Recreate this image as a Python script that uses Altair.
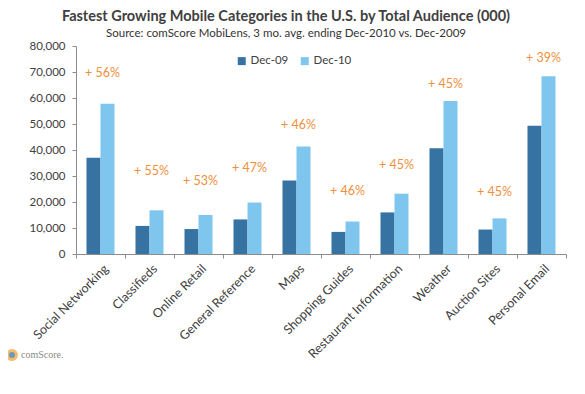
import altair as alt
import pandas as pd

categories = ["Social Networking", "Classifieds", "Online Retail", "General Reference", "Maps",
              "Shopping Guides", "Restaurant Information", "Weather", "Auction Sites", "Personal Email"]
dec09 = [37000, 10800, 9600, 13300, 28300, 8500, 16000, 40700, 9400, 49300]
dec10 = [57800, 16800, 15000, 19800, 41300, 12500, 23200, 58800, 13700, 68400]
growth = ["+ 56%", "+ 55%", "+ 53%", "+ 47%", "+ 46%", "+ 46%", "+ 45%", "+ 45%", "+ 45%", "+ 39%"]
label_level = [69500, 31800, 28000, 33100, 49700, 24400, 34400, 65200, 24000, 75300]
series = ["Dec-09", "Dec-10"]
y_ticks = [0, 10000, 20000, 30000, 40000, 50000, 60000, 70000, 80000]

rows = []
for c, a, b in zip(categories, dec09, dec10):
    rows.append({"category": c, "series": series[0], "value": a})
    rows.append({"category": c, "series": series[1], "value": b})
bars_df = pd.DataFrame(rows)
labels_df = pd.DataFrame({"category": categories, "label": growth, "level": label_level})

FONT = "Lato"
GRAY = "#404040"

x_scale = alt.Scale(domain=categories, paddingInner=0, paddingOuter=0)
y_scale = alt.Scale(domain=[0, 80000])

x_axis = alt.Axis(title=None, labelAngle=-45, labelAlign="right", labelBaseline="top",
                  labelFont=FONT, labelFontSize=12.5, labelColor=GRAY, labelPadding=4,
                  tickBand="extent", tickSize=4, tickColor="#8c8c8c",
                  domainColor="#8c8c8c", labelOffset=1)
y_axis = alt.Axis(title=None, values=y_ticks, format=",.0f", labelOverlap=False,
                  grid=False, tickSize=4, tickColor="#8c8c8c", domainColor="#8c8c8c",
                  labelFont=FONT, labelFontSize=11.5, labelColor=GRAY, labelPadding=7)

bars = alt.Chart(bars_df).mark_bar().encode(
    x=alt.X("category:N", scale=x_scale, sort=categories, axis=x_axis),
    xOffset=alt.XOffset("series:N", scale=alt.Scale(domain=series, paddingInner=0, paddingOuter=0.75)),
    y=alt.Y("value:Q", scale=y_scale, axis=y_axis),
    color=alt.Color("series:N", scale=alt.Scale(domain=series, range=["#3673a3", "#7ec6ee"]),
                    legend=alt.Legend(title=None, orient="none", legendX=160, legendY=9,
                                      direction="horizontal", symbolType="square", symbolSize=64,
                                      symbolStrokeWidth=0, labelFont=FONT, labelFontSize=11.5,
                                      labelColor=GRAY, columnPadding=10, labelOffset=3)),
)

pct = alt.Chart(labels_df).mark_text(font=FONT, fontSize=12.5, color="#ef8f3c", dx=2).encode(
    x=alt.X("category:N", scale=x_scale, sort=categories, axis=x_axis),
    y=alt.Y("level:Q", scale=y_scale, axis=y_axis),
    text="label:N",
)

logo_ring = alt.Chart(pd.DataFrame({"k": [0]})).mark_point(
    shape="circle", size=80, stroke="#f0a030", strokeWidth=3, fill="#2f6f9f", filled=False
).encode(x=alt.value(-64), y=alt.value(309))

logo_text = alt.Chart(pd.DataFrame({"t": ["comScore."]})).mark_text(
    font="Liberation Serif", fontSize=10, color="#8a8a8a", align="left", baseline="middle"
).encode(x=alt.value(-55), y=alt.value(309), text="t:N")

chart = alt.layer(bars, pct, logo_ring, logo_text).properties(
    width=490, height=208,
    autosize=alt.AutoSizeParams(type="none"),
    padding={"left": 68, "top": 38, "right": 11, "bottom": 132},
    title=alt.Title("Fastest Growing Mobile Categories in the U.S. by Total Audience (000)",
                    subtitle="Source: comScore MobiLens, 3 mo. avg. ending Dec-2010 vs. Dec-2009",
                    font=FONT, fontSize=14.5, fontWeight="bold", color=GRAY,
                    subtitleFont=FONT, subtitleFontSize=11.5, subtitleColor="#333333",
                    anchor="middle", dx=-35, offset=0, subtitlePadding=3),
).configure_view(stroke=None)

chart.save("out.html", embed_options={"renderer": "svg", "actions": False})
